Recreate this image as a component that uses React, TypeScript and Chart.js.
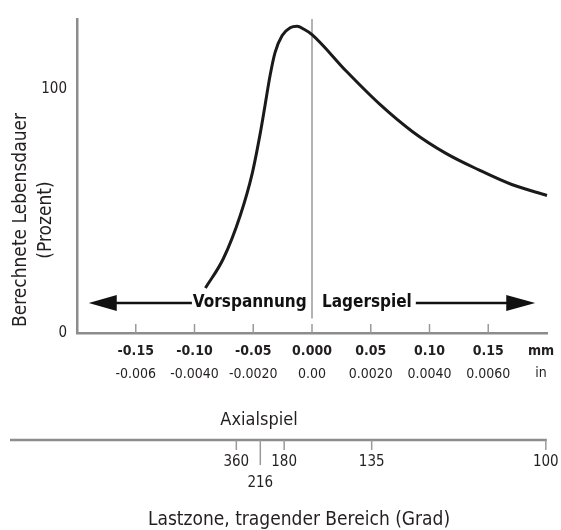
import React, { useEffect, useRef } from "react";
import { Chart, registerables } from "chart.js";
Chart.register(...registerables);

// ---- data ----
const clearanceMm = [-0.0907, -0.0754, -0.061, -0.0508, -0.0441, -0.0398, -0.0356, -0.0314, -0.0254, -0.0186, -0.0127, -0.0068, 0, 0.0297, 0.0576, 0.0856, 0.114, 0.142, 0.17, 0.2];
const lifePct = [18.5, 30.6, 48.4, 65.7, 81.9, 94.0, 106.0, 115.3, 122.2, 125.4, 126.0, 124.8, 122.6, 107.3, 94.0, 82.7, 73.8, 67.0, 61.0, 56.5];
const mmTickValues = [-0.15, -0.1, -0.05, 0, 0.05, 0.1, 0.15];
const mmTickLabels = ["-0.15", "-0.10", "-0.05", "0.000", "0.05", "0.10", "0.15"];
const inTickLabels = ["-0.006", "-0.0040", "-0.0020", "0.00", "0.0020", "0.0040", "0.0060"];
const yTickValues = [0, 100];
const degreeLabels = ["360", "216", "180", "135", "100"];
const degreeAtMm = [-0.0644, -0.044, -0.0237, 0.0508, 0.199];
const highlightedDegree = "216";
const arrowLevel = 12.3;
const arrowTipsMm = [-0.19, 0.19];
const regionLabels = ["Vorspannung", "Lagerspiel"];
const yTitleLines = ["Berechnete Lebensdauer", "(Prozent)"];
const unitLabels = ["mm", "in"];
const axialTitle = "Axialspiel";
const loadZoneTitle = "Lastzone, tragender Bereich (Grad)";

const FONT = '"Liberation Sans Narrow", "Arial Narrow", "DejaVu Sans Condensed", sans-serif';
const AXIS_GREY = "#8c8c8c";
const TEXT = "#231f20";

const decorPlugin = {
  id: "decor",
  beforeDatasetsDraw(chart: any) {
    const { ctx, chartArea, scales } = chart;
    const xs = scales.x, ys = scales.y;
    ctx.save();
    ctx.strokeStyle = "#9a9a9a";
    ctx.lineWidth = 1.5;
    const zx = xs.getPixelForValue(0);
    ctx.beginPath();
    ctx.moveTo(zx, chartArea.top);
    ctx.lineTo(zx, ys.getPixelForValue(6));
    ctx.stroke();
    ctx.restore();
  },
  afterDraw(chart: any) {
    const { ctx, chartArea, scales } = chart;
    const xs = scales.x, ys = scales.y;
    ctx.save();
    // upward tick marks on the clearance axis
    ctx.strokeStyle = "#9a9a9a";
    ctx.lineWidth = 1.5;
    mmTickValues.forEach((v) => {
      const px = xs.getPixelForValue(v);
      ctx.beginPath();
      ctx.moveTo(px, chartArea.bottom - 9);
      ctx.lineTo(px, chartArea.bottom);
      ctx.stroke();
    });

    // unit labels
    ctx.fillStyle = TEXT;
    ctx.textAlign = "center";
    ctx.textBaseline = "middle";
    ctx.font = `bold 14px ${FONT}`;
    ctx.fillText(unitLabels[0], chartArea.right - 6, chartArea.bottom + 18);
    ctx.font = `14px ${FONT}`;
    ctx.fillText(unitLabels[1], chartArea.right - 6, chartArea.bottom + 40);

    // arrows with region labels
    const ay = ys.getPixelForValue(arrowLevel);
    ctx.font = `bold 17px ${FONT}`;
    ctx.fillStyle = "#111";
    const leftTextRight = xs.getPixelForValue(-0.0045);
    ctx.textAlign = "right";
    ctx.fillText(regionLabels[0], leftTextRight, ay);
    const lw = ctx.measureText(regionLabels[0]).width;
    const rightTextLeft = xs.getPixelForValue(0.0085);
    ctx.textAlign = "left";
    ctx.fillText(regionLabels[1], rightTextLeft, ay);
    const rw = ctx.measureText(regionLabels[1]).width;

    ctx.strokeStyle = "#111";
    ctx.lineWidth = 2.5;
    const lt = xs.getPixelForValue(arrowTipsMm[0]);
    const rt = xs.getPixelForValue(arrowTipsMm[1]);
    ctx.beginPath();
    ctx.moveTo(lt + 20, ay);
    ctx.lineTo(leftTextRight - lw - 1, ay);
    ctx.moveTo(rightTextLeft + rw + 4, ay);
    ctx.lineTo(rt - 20, ay);
    ctx.stroke();
    ctx.fillStyle = "#111";
    ctx.beginPath();
    ctx.moveTo(lt, ay);
    ctx.lineTo(lt + 28, ay - 8);
    ctx.lineTo(lt + 28, ay + 8);
    ctx.closePath();
    ctx.fill();
    ctx.beginPath();
    ctx.moveTo(rt, ay);
    ctx.lineTo(rt - 29, ay - 8);
    ctx.lineTo(rt - 29, ay + 8);
    ctx.closePath();
    ctx.fill();

    // y axis title
    ctx.fillStyle = TEXT;
    ctx.font = `19px ${FONT}`;
    ctx.textAlign = "center";
    ctx.textBaseline = "middle";
    const ty = 220;
    [21, 46].forEach((tx, i) => {
      ctx.save();
      ctx.translate(tx, ty);
      ctx.rotate(-Math.PI / 2);
      ctx.fillText(yTitleLines[i], 0, 0);
      ctx.restore();
    });

    // Axialspiel title
    ctx.font = `18px ${FONT}`;
    ctx.fillText(axialTitle, 259, 420);

    // load zone scale
    const ly = 440;
    ctx.strokeStyle = AXIS_GREY;
    ctx.lineWidth = 2.5;
    ctx.beginPath();
    ctx.moveTo(10, ly);
    ctx.lineTo(xs.getPixelForValue(degreeAtMm[degreeAtMm.length - 1]) + 1, ly);
    ctx.stroke();
    ctx.lineWidth = 1.5;
    ctx.strokeStyle = "#9a9a9a";
    ctx.font = `15px ${FONT}`;
    degreeLabels.forEach((lab, i) => {
      const px = xs.getPixelForValue(degreeAtMm[i]);
      const hi = lab === highlightedDegree;
      ctx.beginPath();
      ctx.moveTo(px, ly);
      ctx.lineTo(px, ly + (hi ? 25 : 10));
      ctx.stroke();
      ctx.fillStyle = TEXT;
      ctx.fillText(lab, px, hi ? 483 : 462);
    });

    ctx.font = `19px ${FONT}`;
    ctx.fillText(loadZoneTitle, 299, 520);
    ctx.restore();
  },
};

export default function App() {
  const ref = useRef<HTMLCanvasElement>(null);
  useEffect(() => {
    if (!ref.current) return;
    const chart = new Chart(ref.current, {
      type: "line",
      data: {
        datasets: [
          {
            data: clearanceMm.map((x, i) => ({ x, y: lifePct[i] })),
            borderColor: "#1a1a1a",
            borderWidth: 3,
            pointRadius: 0,
            cubicInterpolationMode: "monotone",
            fill: false,
            clip: false as any,
          },
        ],
      },
      options: {
        animation: false,
        responsive: false,
        layout: { padding: { top: 13, right: 14, left: 0, bottom: 0 } },
        plugins: { legend: { display: false }, tooltip: { enabled: false } },
        scales: {
          x: {
            type: "linear",
            position: "bottom",
            min: -0.2,
            max: 0.2,
            afterBuildTicks: (s: any) => {
              s.ticks = mmTickValues.map((v) => ({ value: v }));
            },
            ticks: {
              autoSkip: false,
              maxRotation: 0,
              padding: 10,
              color: TEXT,
              font: { family: FONT, size: 14, weight: "bold" },
              callback: (v: any) => mmTickLabels[mmTickValues.indexOf(v)],
            },
            grid: { display: false, drawTicks: false },
            border: { display: true, color: AXIS_GREY, width: 2.5 },
            afterFit: (s: any) => {
              s.height = 30;
            },
          },
          x2: {
            type: "linear",
            position: "bottom",
            min: -0.2,
            max: 0.2,
            afterBuildTicks: (s: any) => {
              s.ticks = mmTickValues.map((v) => ({ value: v }));
            },
            ticks: {
              autoSkip: false,
              maxRotation: 0,
              padding: 3,
              color: TEXT,
              font: { family: FONT, size: 14 },
              callback: (v: any) => inTickLabels[mmTickValues.indexOf(v)],
            },
            grid: { display: false, drawTicks: false },
            border: { display: false },
            afterFit: (s: any) => {
              s.height = 167;
            },
          },
          y: {
            type: "linear",
            min: 0,
            max: 129,
            afterBuildTicks: (s: any) => {
              s.ticks = yTickValues.map((v) => ({ value: v }));
            },
            ticks: {
              padding: 10,
              color: TEXT,
              font: { family: FONT, size: 15 },
            },
            grid: { display: false, drawTicks: false },
            border: { display: true, color: AXIS_GREY, width: 2.5 },
            afterFit: (s: any) => {
              s.width = 77;
            },
          },
        },
      } as any,
      plugins: [decorPlugin],
    });
    return () => chart.destroy();
  }, []);
  return (
    <div style={{ position: "absolute", left: 0, top: 0, width: 561, height: 530, background: "#fff" }}>
      <canvas ref={ref} width={561} height={530} style={{ width: 561, height: 530 }} />
    </div>
  );
}
